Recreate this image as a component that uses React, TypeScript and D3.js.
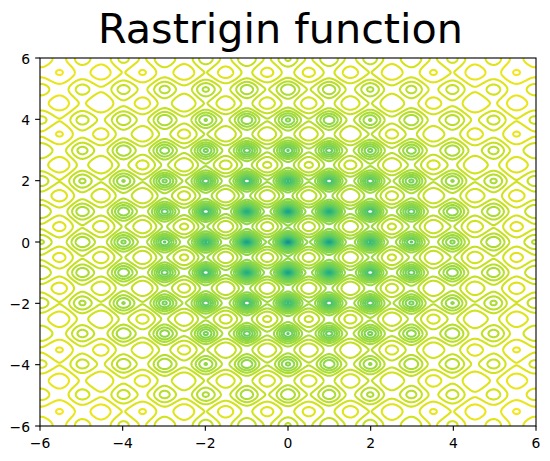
import React, { useMemo } from "react";
import * as d3 from "d3";

const W = 550, H = 461;
const M = { left: 40, right: 536, top: 58, bottom: 426 };
const xTicks = [-6, -4, -2, 0, 2, 4, 6];
const yTicks = [-6, -4, -2, 0, 2, 4, 6];
const title = "Rastrigin function";
// estimated contour levels (log spaced as read from ring sizes)
const topLevel = 99.5;
const levelRatio = 1.2215;
const levelCount = 35;
const colorLogMin = -2.4;
const colorLogMax = 2.05;

const rastrigin = (x: number, y: number) =>
  20 + x * x - 10 * Math.cos(2 * Math.PI * x) + y * y - 10 * Math.cos(2 * Math.PI * y);

const fmt = (v: number) => (v < 0 ? "\u2212" + Math.abs(v) : String(v));

export default function App() {
  const x = d3.scaleLinear().domain([-6, 6]).range([M.left, M.right]);
  const y = d3.scaleLinear().domain([-6, 6]).range([M.bottom, M.top]);
  const color = (l: number) =>
    d3.interpolateViridis((Math.log10(l) - colorLogMin) / (colorLogMax - colorLogMin));

  const paths = useMemo(() => {
    const lo = -6.2, hi = 6.2, n = 1001;
    const step = (hi - lo) / (n - 1);
    const values = new Float64Array(n * n);
    for (let j = 0; j < n; j++)
      for (let i = 0; i < n; i++) values[j * n + i] = rastrigin(lo + i * step, lo + j * step);
    const levels = d3.range(levelCount).map((k) => topLevel / Math.pow(levelRatio, k)).reverse();
    const gen = d3.contours().size([n, n]).thresholds(levels).smooth(true);
    const px = (g: number) => lo + (g - 0.5) * step;
    const proj = d3.geoTransform({
      point(a: number, b: number) {
        (this as any).stream.point(x(px(a)), y(px(b)));
      },
    });
    const path = d3.geoPath(proj);
    return gen(values as any).map((c: any) => ({ v: c.value, d: path(c) || "" }));
  }, []);

  return (
    <svg width={W} height={H} style={{ position: "absolute", left: 0, top: 0, background: "#fff" }}
      fontFamily="'DejaVu Sans'">
      <defs>
        <clipPath id="ax">
          <rect x={M.left} y={M.top} width={M.right - M.left} height={M.bottom - M.top} />
        </clipPath>
      </defs>
      <g clipPath="url(#ax)">
        {paths.map((p) => (
          <path key={p.v} d={p.d} fill="none" stroke={color(p.v)} strokeWidth={2.08} />
        ))}
      </g>
      <rect x={M.left} y={M.top} width={M.right - M.left} height={M.bottom - M.top}
        fill="none" stroke="#000" strokeWidth={1.11} />
      {xTicks.map((t) => (
        <g key={t} transform={`translate(${x(t)},${M.bottom})`}>
          <line y2={4.86} stroke="#000" strokeWidth={1.11} />
          <text y={22} textAnchor="middle" fontSize={13.9} fill="#000">{fmt(t)}</text>
        </g>
      ))}
      {yTicks.map((t) => (
        <g key={t} transform={`translate(${M.left},${y(t)})`}>
          <line x2={-4.86} stroke="#000" strokeWidth={1.11} />
          <text x={-10} y={5.5} textAnchor="end" fontSize={13.9} fill="#000">{fmt(t)}</text>
        </g>
      ))}
      <text x={280.5} y={43} textAnchor="middle" fontSize={41.3} fill="#000">{title}</text>
    </svg>
  );
}
